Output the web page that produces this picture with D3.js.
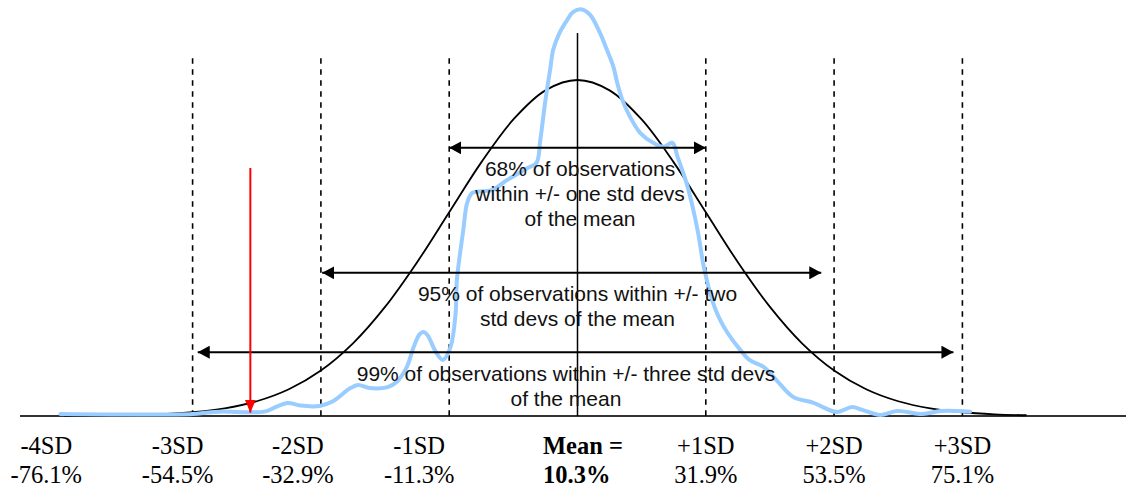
<!DOCTYPE html>
<html>
<head>
<meta charset="utf-8">
<script src="https://cdn.jsdelivr.net/npm/d3@7"></script>
<style>
  html, body { margin: 0; padding: 0; background: #fff; }
  svg { display: block; }
</style>
</head>
<body>
<div class="chart"></div>
<script>
'use strict';

// Axis ticks (in standard deviations from the mean)
var sdTicks = [-4, -3, -2, -1, 0, 1, 2, 3];
var sdLabels = ['-4SD', '-3SD', '-2SD', '-1SD', 'Mean =', '+1SD', '+2SD', '+3SD'];
var returnLabels = ['-76.1%', '-54.5%', '-32.9%', '-11.3%', '10.3%', '31.9%', '53.5%', '75.1%'];
var dashedTicks = [-3, -2, -1, 1, 2, 3];

// Normal curve, height relative to its peak
var normalZ = [-4, -3.75, -3.5, -3.25, -3, -2.75, -2.5, -2.25, -2, -1.75, -1.5, -1.25, -1, -0.75, -0.5, -0.25,
  0, 0.25, 0.5, 0.75, 1, 1.25, 1.5, 1.75, 2, 2.25, 2.5, 2.75, 3, 3.25, 3.5];
var normalH = [0.0003, 0.0009, 0.0022, 0.0051, 0.0111, 0.0228, 0.0439, 0.0796, 0.1353, 0.2163, 0.3247, 0.4578, 0.6065, 0.7548, 0.8825, 0.9692,
  1, 0.9692, 0.8825, 0.7548, 0.6065, 0.4578, 0.3247, 0.2163, 0.1353, 0.0796, 0.0439, 0.0228, 0.0111, 0.0051, 0.0022];

// Observed distribution (blue), same units
var sampleZ = [-4.03, -3.0, -2.9, -2.79, -2.44, -2.35, -2.26, -2.16, -2.01, -1.91, -1.77, -1.71, -1.62, -1.48, -1.41,
  -1.33, -1.28, -1.23, -1.2, -1.17, -1.1, -1.05, -0.99, -0.95, -0.94, -0.89, -0.86, -0.82, -0.71, -0.66, -0.55,
  -0.39, -0.32, -0.29, -0.25, -0.21, -0.19, -0.14, -0.08, -0.035, 0.035, 0.1, 0.175, 0.23, 0.28, 0.31, 0.35,
  0.41, 0.49, 0.59, 0.67, 0.74, 0.78, 0.85, 0.9, 0.94, 0.985, 1.05, 1.1, 1.17, 1.27, 1.34, 1.45, 1.55, 1.68,
  1.84, 2.02, 2.14, 2.22, 2.36, 2.49, 2.69, 2.83, 3.06];
var sampleH = [0.006, 0.006, 0.01, 0.013, 0.013, 0.027, 0.039, 0.031, 0.03, 0.043, 0.083, 0.092, 0.083, 0.086, 0.101,
  0.146, 0.202, 0.244, 0.25, 0.241, 0.188, 0.167, 0.205, 0.307, 0.405, 0.554, 0.634, 0.664, 0.67, 0.673, 0.702,
  0.738, 0.753, 0.821, 0.94, 1.039, 1.089, 1.14, 1.179, 1.202, 1.21, 1.193, 1.14, 1.089, 1.039, 0.991, 0.94,
  0.89, 0.842, 0.813, 0.801, 0.813, 0.771, 0.693, 0.618, 0.545, 0.443, 0.345, 0.295, 0.247, 0.196, 0.167, 0.146, 0.107, 0.057,
  0.039, 0.012, 0.027, 0.018, 0.003, 0.015, 0.006, 0.015, 0.013];

// Range arrows
var bandFrom = [-1, -1.99, -2.96];
var bandTo = [1, 1.9, 2.93];
var bandLevel = [0.798, 0.426, 0.19];
var bandCenter = [0.02, 0, -0.09];
var bandText = [
  ['68% of observations', 'within +/- one std devs', 'of the mean'],
  ['95% of observations within +/- two', 'std devs of the mean'],
  ['99% of observations within +/- three std devs', 'of the mean']
];

// Red marker
var markerZ = -2.55;
var markerTop = 0.738;
var markerTip = 0.01;

// Guide line heights
var dashTop = 1.065;
var meanTop = 1.14;

// Size
var w = 1126;
var h = 487;
var baseY = 416;
var labelDx = [-18, -15, -23, -30, -34.5, 0, 0, 0];

var x = d3.scaleLinear().domain([-4, 3]).range([64.3, 962.4]);
var y = d3.scaleLinear().domain([0, 1]).range([baseY, 80]);

var svg = d3.select('.chart')
  .append('svg')
  .attr('width', w)
  .attr('height', h);

// Arrow heads
var defs = svg.append('defs');
defs.append('marker')
  .attr('id', 'head')
  .attr('markerUnits', 'userSpaceOnUse')
  .attr('markerWidth', 13).attr('markerHeight', 13)
  .attr('refX', 12).attr('refY', 6.5)
  .attr('orient', 'auto-start-reverse')
  .append('path')
  .attr('d', 'M0,0L12,6.5L0,13Z')
  .attr('fill', '#000');
defs.append('marker')
  .attr('id', 'redhead')
  .attr('markerUnits', 'userSpaceOnUse')
  .attr('markerWidth', 14).attr('markerHeight', 12)
  .attr('refX', 13).attr('refY', 5.5)
  .attr('orient', 'auto')
  .append('path')
  .attr('d', 'M0,0L13,5.5L0,11Z')
  .attr('fill', '#ff0000');

// Baseline
svg.append('line')
  .attr('x1', 20).attr('x2', w)
  .attr('y1', baseY).attr('y2', baseY)
  .attr('stroke', '#333')
  .attr('stroke-width', 2);

// Dashed SD lines
svg.append('g')
  .selectAll('line')
  .data(dashedTicks)
  .enter()
  .append('line')
  .attr('x1', function(d) { return x(d); })
  .attr('x2', function(d) { return x(d); })
  .attr('y1', y(dashTop))
  .attr('y2', baseY)
  .attr('stroke', '#000')
  .attr('stroke-width', 1.6)
  .attr('stroke-dasharray', '5.5,5.5');

// Mean line
svg.append('line')
  .attr('x1', x(0)).attr('x2', x(0))
  .attr('y1', y(meanTop)).attr('y2', baseY)
  .attr('stroke', '#000')
  .attr('stroke-width', 1.5);

// Normal curve
var line = d3.line()
  .x(function(d) { return x(d[0]); })
  .y(function(d) { return y(d[1]); })
  .curve(d3.curveCatmullRom);

svg.append('path')
  .datum(d3.zip(normalZ, normalH))
  .attr('d', line)
  .attr('fill', 'none')
  .attr('stroke', '#000')
  .attr('stroke-width', 1.8);

// Observed curve
svg.append('path')
  .datum(d3.zip(sampleZ, sampleH))
  .attr('d', line)
  .attr('fill', 'none')
  .attr('stroke', '#99ccff')
  .attr('stroke-width', 4)
  .attr('stroke-linejoin', 'round')
  .attr('stroke-linecap', 'round');

// Range arrows
svg.append('g')
  .selectAll('line')
  .data(bandFrom)
  .enter()
  .append('line')
  .attr('x1', function(d) { return x(d); })
  .attr('x2', function(d, i) { return x(bandTo[i]); })
  .attr('y1', function(d, i) { return y(bandLevel[i]); })
  .attr('y2', function(d, i) { return y(bandLevel[i]); })
  .attr('stroke', '#000')
  .attr('stroke-width', 2)
  .attr('marker-start', 'url(#head)')
  .attr('marker-end', 'url(#head)');

// Range texts
bandText.forEach(function(lines, i) {
  var t = svg.append('text')
    .attr('text-anchor', 'middle')
    .attr('font-family', 'Liberation Sans, Arial, sans-serif')
    .attr('font-size', 21)
    .attr('fill', '#111');
  lines.forEach(function(s, j) {
    t.append('tspan')
      .attr('x', x(bandCenter[i]))
      .attr('y', y(bandLevel[i]) + 28.5 + j * 25)
      .text(s);
  });
});

// Red marker
svg.append('line')
  .attr('x1', x(markerZ)).attr('x2', x(markerZ))
  .attr('y1', y(markerTop)).attr('y2', y(markerTip))
  .attr('stroke', '#ff0000')
  .attr('stroke-width', 2)
  .attr('marker-end', 'url(#redhead)');

// Tick labels
var labels = svg.append('g')
  .attr('font-family', 'Liberation Serif, Times New Roman, serif')
  .attr('font-size', 24.5)
  .attr('fill', '#000');

labels.selectAll('text')
  .data(sdTicks)
  .enter()
  .append('text')
  .attr('text-anchor', function(d) { return d === 0 ? 'start' : 'middle'; })
  .attr('font-weight', function(d) { return d === 0 ? 'bold' : 'normal'; })
  .each(function(d, i) {
    var t = d3.select(this);
    t.append('tspan')
      .attr('x', x(d) + labelDx[i])
      .attr('y', 454)
      .text(sdLabels[i]);
    t.append('tspan')
      .attr('x', x(d) + labelDx[i])
      .attr('y', 483)
      .text(returnLabels[i]);
  });
</script>
</body>
</html>
